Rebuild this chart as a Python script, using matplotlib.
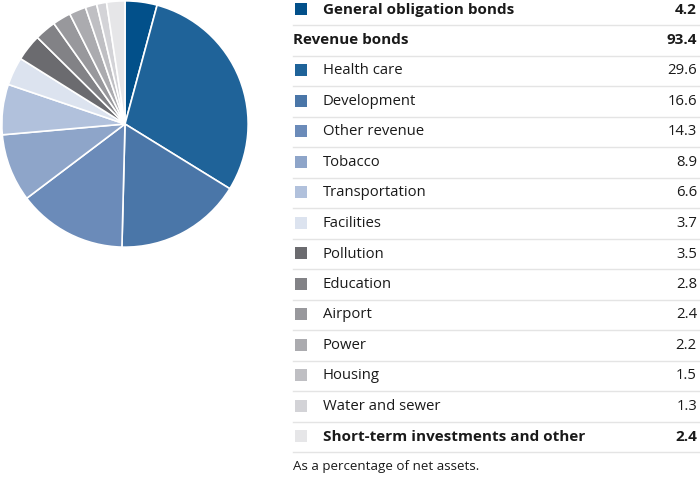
import matplotlib.pyplot as plt

# data
labels = ['General obligation bonds', 'Health care', 'Development', 'Other revenue',
          'Tobacco', 'Transportation', 'Facilities', 'Pollution', 'Education',
          'Airport', 'Power', 'Housing', 'Water and sewer',
          'Short-term investments and other']
values = [4.2, 29.6, 16.6, 14.3, 8.9, 6.6, 3.7, 3.5, 2.8, 2.4, 2.2, 1.5, 1.3, 2.4]
colors = ['#02508a', '#1f6399', '#4a76a8', '#6b8bb9', '#8ea5c9', '#b1c1dc',
          '#dce3ef', '#6b6b6f', '#828286', '#98989c', '#ababaf', '#bfbfc3',
          '#d3d3d7', '#e6e6e8']
revenue_label = 'Revenue bonds'
revenue_total = 93.4
footnote = 'As a percentage of net assets.'

plt.rcParams['font.family'] = ['Open Sans', 'DejaVu Sans']

fig = plt.figure(figsize=(7, 4.85), dpi=100)

# pie
ax = fig.add_axes([0, 1 - 250 / 485, 250 / 700, 250 / 485])
ax.pie(values, colors=colors, startangle=90, counterclock=False,
       wedgeprops=dict(edgecolor='white', linewidth=1.2))
ax.set_aspect('equal')
ax.set_xlim(-1.015, 1.015)
ax.set_ylim(-1.015, 1.015)

# table
tx = fig.add_axes([0, 0, 1, 1])
tx.set_xlim(0, 700)
tx.set_ylim(485, 0)
tx.axis('off')

rows = [(labels[0], values[0], colors[0], 'bold')]
rows.append((revenue_label, revenue_total, None, 'bold'))
for i in range(1, 13):
    rows.append((labels[i], values[i], colors[i], 'normal'))
rows.append((labels[13], values[13], colors[13], 'bold'))

pitch = 30.5
y0 = 10
fs = 11
for k, (name, val, col, wt) in enumerate(rows):
    y = y0 + k * pitch
    size = fs if wt == 'bold' else 10.7
    if col is None:
        tx.text(293, y, name, fontsize=size, fontweight=wt, va='center', ha='left', color='#1a1a1a')
    else:
        tx.add_patch(plt.Rectangle((295, y - 6), 12, 12, color=col, lw=0))
        tx.text(323, y, name, fontsize=size, fontweight=wt, va='center', ha='left', color='#1a1a1a')
    tx.text(697, y, f'{val:.1f}', fontsize=size, fontweight=wt, va='center', ha='right', color='#1a1a1a')
    tx.plot([293, 700], [y + 16, y + 16], color='#e4e4e4', lw=1)

tx.text(293, 467, footnote, fontsize=9.6, va='center', ha='left', color='#1a1a1a')

fig.savefig('out.png', dpi=100)
